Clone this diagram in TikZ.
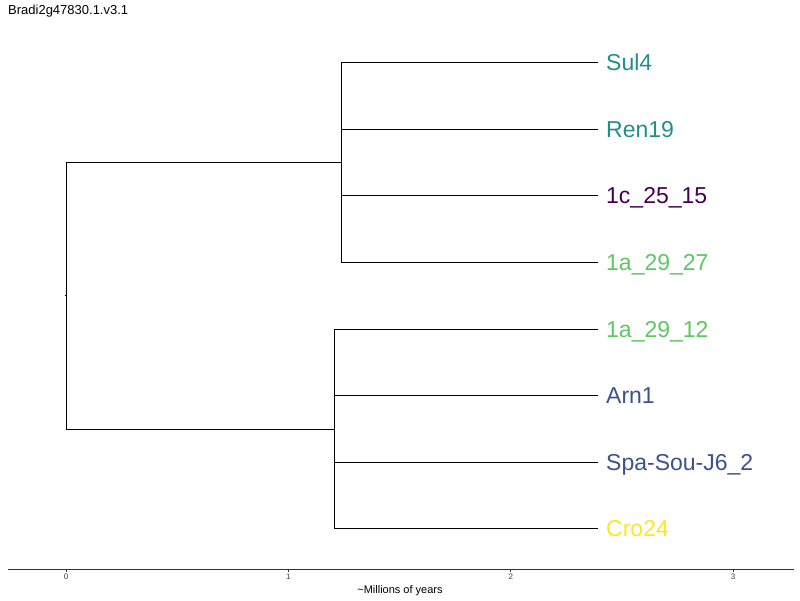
\documentclass[tikz,border=0pt]{standalone}
\usepackage{fontspec}
\setmainfont{Liberation Sans}
\definecolor{vteal}{HTML}{21908C}
\definecolor{vpurple}{HTML}{440154}
\definecolor{vgreen}{HTML}{5DC863}
\definecolor{vblue}{HTML}{3B528B}
\definecolor{vyellow}{HTML}{FDE725}
\begin{document}
\begin{tikzpicture}[x=1pt,y=-1pt,
  branch/.style={draw=black,line width=0.9pt},
  tiplabel/.style={anchor=base west,inner sep=0pt,font=\fontsize{23}{26}\selectfont},
  ticklabel/.style={anchor=north,inner sep=0pt,font=\fontsize{8}{9}\selectfont,text=black!75},
  axisline/.style={draw=black!80,line width=1pt}]
\useasboundingbox[fill=white] (0,0) rectangle (800,600);

% title
\node[anchor=base west,inner sep=0pt,font=\fontsize{13}{15}\selectfont] (title) at (8,14) {Bradi2g47830.1.v3.1};

% internal nodes
\coordinate (root) at (66,295.5);
\coordinate (rootstub) at (64.5,295.5);
\coordinate (nU) at (341,162);
\coordinate (nUi) at (341.8,162);
\coordinate (nL) at (334,429);
\coordinate (nLi) at (334.8,429);

% tips
\coordinate (t1) at (598,62);
\coordinate (t2) at (598,129);
\coordinate (t3) at (598,195.5);
\coordinate (t4) at (598,262);
\coordinate (t5) at (598,329);
\coordinate (t6) at (598,395.5);
\coordinate (t7) at (598,462);
\coordinate (t8) at (598,528.5);

% root
\draw[branch] (rootstub) -- (root);
\draw[branch] (root |- nU) -- (root |- nL);
\draw[branch] (root |- nU) -- (nU);
\draw[branch] (root |- nL) -- (nL);

% upper clade
\draw[branch] (nU |- t1) -- (nU |- t4);
\draw[branch] (nU |- t1) -- (t1);
\draw[branch] (nU |- t4) -- (t4);
\draw[branch] (nU) -- (nUi);
\draw[branch] (nUi |- t2) -- (nUi |- t3);
\draw[branch] (nUi |- t2) -- (t2);
\draw[branch] (nUi |- t3) -- (t3);

% lower clade
\draw[branch] (nL |- t5) -- (nL |- t8);
\draw[branch] (nL |- t5) -- (t5);
\draw[branch] (nL |- t8) -- (t8);
\draw[branch] (nL) -- (nLi);
\draw[branch] (nLi |- t6) -- (nLi |- t7);
\draw[branch] (nLi |- t6) -- (t6);
\draw[branch] (nLi |- t7) -- (t7);

% tip labels
\node[tiplabel,text=vteal] (l1) at (606,70) {Sul4};
\node[tiplabel,text=vteal] (l2) at (606,137) {Ren19};
\node[tiplabel,text=vpurple] (l3) at (606,203.5) {1c\_25\_15};
\node[tiplabel,text=vgreen] (l4) at (606,270) {1a\_29\_27};
\node[tiplabel,text=vgreen] (l5) at (606,337) {1a\_29\_12};
\node[tiplabel,text=vblue] (l6) at (606,403.5) {Arn1};
\node[tiplabel,text=vblue] (l7) at (606,470) {Spa-Sou-J6\_2};
\node[tiplabel,text=vyellow] (l8) at (606,536.5) {Cro24};

% time axis
\coordinate (axL) at (8,569);
\coordinate (axR) at (794,569);
\draw[axisline] (axL) -- (axR);
\foreach \v/\px in {0/66,1/288.4,2/510.8,3/733.2}{
  \coordinate (tk\v) at (\px,569);
  \draw[draw=black!80,line width=0.8pt] (tk\v) -- ++(0,3);
  \node[ticklabel] (tl\v) at (\px,574) {\v};
}
\node[anchor=base,inner sep=0pt,font=\fontsize{11}{13}\selectfont] (axtitle) at (400,593) {\textasciitilde Millions of years};
\end{tikzpicture}
\end{document}
